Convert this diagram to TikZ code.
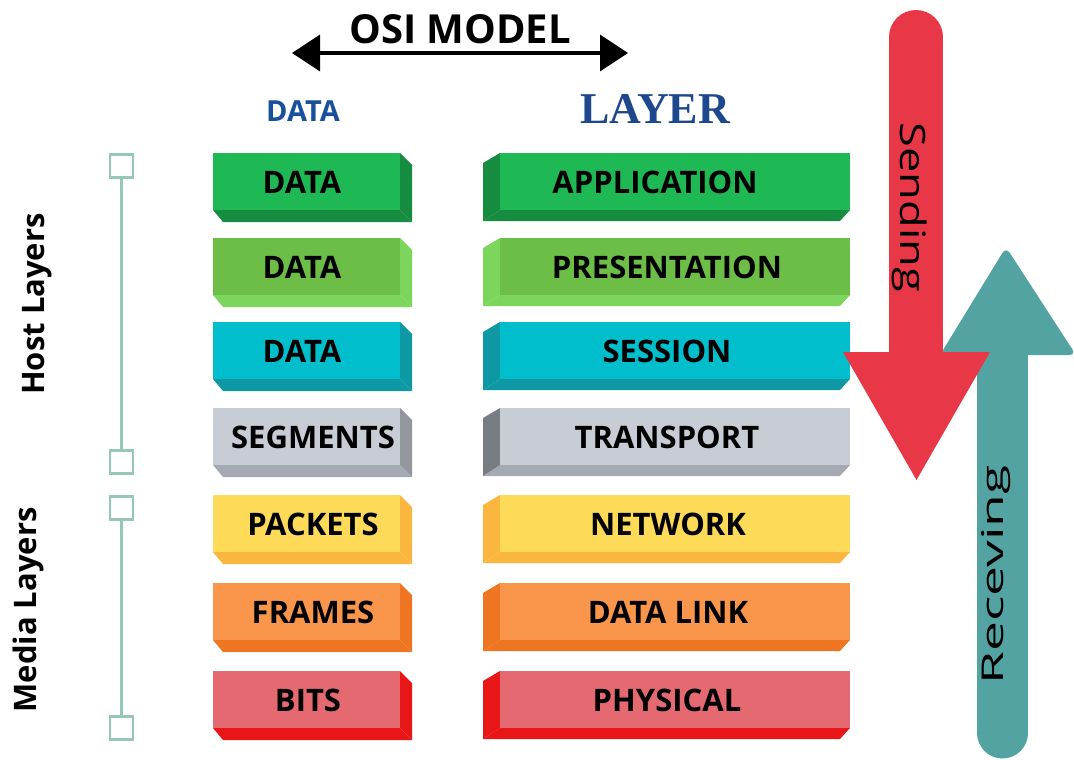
\documentclass[tikz,border=0pt]{standalone}
\usepackage{fontspec}
\usepackage{graphicx}
\setmainfont{Open Sans}
\newfontfamily\serifb{Liberation Serif}
\usetikzlibrary{arrows.meta}

\definecolor{gAf}{RGB}{30,185,85}   \definecolor{gAs}{RGB}{22,140,64}
\definecolor{gBf}{RGB}{108,190,70}  \definecolor{gBs}{RGB}{125,214,92}
\definecolor{cyf}{RGB}{0,190,204}   \definecolor{cys}{RGB}{14,152,164}
\definecolor{gyf}{RGB}{200,205,213} \definecolor{gys}{RGB}{120,125,132} \definecolor{gyb}{RGB}{165,170,178}
\definecolor{yef}{RGB}{253,218,88}  \definecolor{yes}{RGB}{250,182,62}
\definecolor{orf}{RGB}{250,150,75}  \definecolor{ors}{RGB}{238,118,35}
\definecolor{rdf}{RGB}{228,105,112} \definecolor{rds}{RGB}{232,22,22}
\definecolor{arrred}{RGB}{232,55,70}
\definecolor{arrteal}{RGB}{84,163,163}
\definecolor{brk}{RGB}{150,200,185}
\definecolor{blueA}{RGB}{24,80,155}
\definecolor{blueB}{RGB}{30,72,142}

\tikzset{
  frontface/.style={rectangle, inner sep=0pt, minimum height=57pt, draw=none},
  boxtxt/.style={inner sep=0pt, font=\fontsize{31}{37}\selectfont\bfseries, text=black},
  sidetxt/.style={inner sep=0pt, anchor=base, rotate=90, font=\fontsize{31}{37}\selectfont\bfseries},
  sq/.style={rectangle, draw=brk, line width=2.5pt, fill=white, minimum width=23pt, minimum height=23pt, inner sep=0pt},
  brkline/.style={draw=brk, line width=2.5pt},
}

% left column box: name, top, front, side, bottom, text x, text
\newcommand{\lbox}[7]{%
  \fill[#5] (213,{#2+57}) -- (400,{#2+57}) -- (412,{#2+69}) -- (223,{#2+69}) -- cycle;
  \fill[#4] (400,#2) -- (412,{#2+12}) -- (412,{#2+69}) -- (400,{#2+57}) -- cycle;
  \node[frontface, fill=#3, minimum width=187pt] (#1) at (306.5,{#2+28.5}) {};
  \node[boxtxt] (#1t) at (#6,{#2+29}) {#7};
}
% right column box
\newcommand{\rbox}[7]{%
  \fill[#5] (500,{#2+57}) -- (850,{#2+57}) -- (840,{#2+68}) -- (483,{#2+68}) -- cycle;
  \fill[#4] (483,{#2+10}) -- (500,#2) -- (500,{#2+57}) -- (483,{#2+68}) -- cycle;
  \node[frontface, fill=#3, minimum width=350pt] (#1) at (675,{#2+28.5}) {};
  \node[boxtxt] (#1t) at (#6,{#2+29}) {#7};
}

\begin{document}
\begin{tikzpicture}[x=1pt,y=-1pt]
\fill[white] (0,0) rectangle (1074,760);
\useasboundingbox (0,0) rectangle (1074,760);

% title
\node[inner sep=0pt, font=\fontsize{40}{48}\selectfont\bfseries] (title) at (460,29.5) {OSI MODEL};
\coordinate (al) at (292,53);
\coordinate (ar) at (628,53);
\draw[line width=3.5pt, {Triangle[length=28pt,width=36pt]}-{Triangle[length=28pt,width=36pt]}] (al) -- (ar);

\node[inner sep=0pt, font=\fontsize{29}{35}\selectfont\bfseries, text=blueA] (hdata) at (303,111) {DATA};
\node[inner sep=0pt, font=\fontsize{44}{52}\serifb\bfseries, text=blueB] (hlayer) at (655,109) {LAYER};

% boxes
\lbox{l1}{153}{gAf}{gAs}{gAs}{302}{DATA}
\lbox{l2}{238}{gBf}{gBs}{gBs}{302}{DATA}
\lbox{l3}{322}{cyf}{cys}{cys}{302}{DATA}
\lbox{l4}{408}{gyf}{gys!80!white}{gyb}{313}{SEGMENTS}
\lbox{l5}{495}{yef}{yes}{yes}{313}{PACKETS}
\lbox{l6}{583}{orf}{ors}{ors}{313}{FRAMES}
\lbox{l7}{671}{rdf}{rds}{rds}{308}{BITS}

\rbox{r1}{153}{gAf}{gAs}{gAs}{655}{APPLICATION}
\rbox{r2}{238}{gBf}{gBs}{gBs}{667}{PRESENTATION}
\rbox{r3}{322}{cyf}{cys}{cys}{667}{SESSION}
\rbox{r4}{408}{gyf}{gys}{gyb}{667}{TRANSPORT}
\rbox{r5}{495}{yef}{yes}{yes}{668}{NETWORK}
\rbox{r6}{583}{orf}{ors}{ors}{668}{DATA LINK}
\rbox{r7}{671}{rdf}{rds}{rds}{667}{PHYSICAL}

% side brackets
\node[sq] (h1) at (121.5,166) {};
\node[sq] (h2) at (121.5,462) {};
\node[sq] (m1) at (121.5,508) {};
\node[sq] (m2) at (121.5,728) {};
\draw[brkline] (h1) -- (h2);
\draw[brkline] (m1) -- (m2);
\node[sidetxt] (host) at (44,304) {Host Layers};
\node[sidetxt] (media) at (36,610) {Media Layers};

% receiving arrow (teal)
\fill[arrteal] (977,354) rectangle (1028,733);
\fill[arrteal] (1002.5,733) circle (25.5pt);
\fill[arrteal, rounded corners=7pt] (940,355) -- (1006,247) -- (1076,355) -- cycle;
\fill[arrteal] (977,340) rectangle (1028,356);

% sending arrow (red)
\fill[arrred] (889,37) rectangle (943,353);
\fill[arrred] (916,37) circle (27pt);
\fill[arrred] (843,352) -- (990,352) -- (916.5,480) -- cycle;

\node[inner sep=0pt, anchor=base, rotate=-90, font=\fontsize{35}{42}\selectfont] (send) at (900,207.5) {\scalebox{1.29}[1]{Sending}};
\node[inner sep=0pt, anchor=base, rotate=90, font=\fontsize{30}{36}\selectfont] (recv) at (1003,575) {\scalebox{1.78}[1]{Receving}};
\end{tikzpicture}
\end{document}
